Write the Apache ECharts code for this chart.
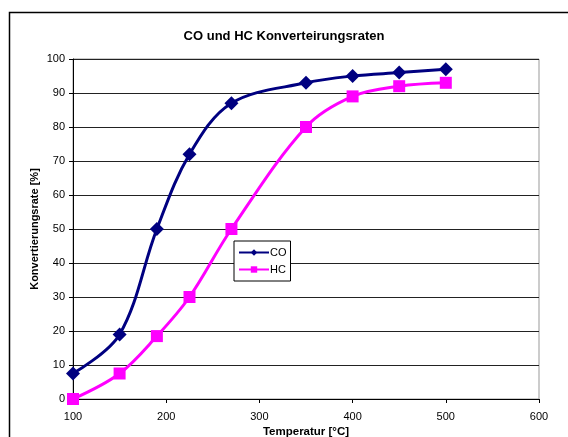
<!DOCTYPE html>
<html><head><meta charset="utf-8">
<script src="https://cdn.jsdelivr.net/npm/echarts@6/dist/echarts.min.js"></script>
<style>html,body{margin:0;padding:0;background:#fff}#c{width:568px;height:437px}</style>
</head><body><div id="c"></div>
<script>
const temps = [100, 150, 190, 225, 270, 350, 400, 450, 500];
const coValues = [7.5, 19, 50, 72, 87, 93, 95, 96, 97];
const hcValues = [0, 7.5, 18.5, 30, 50, 80, 89, 92, 93];
const seriesNames = ['CO', 'HC'];
const titleText = 'CO und HC Konverteirungsraten';
const xName = 'Temperatur [°C]';
const yName = 'Konvertierungsrate [%]';

const pair = (xs, ys) => xs.map((x, i) => [x, ys[i]]);
const font = 'Liberation Sans, Arial, sans-serif';
const chart = echarts.init(document.getElementById('c'), null, {renderer: 'canvas'});
chart.setOption({
  animation: false,
  backgroundColor: '#fff',
  graphic: [{type: 'rect', shape: {x: 9.5, y: 12.5, width: 570, height: 440}, style: {fill: 'none', stroke: '#000', lineWidth: 1.5}, silent: true, z: -1}],
  title: {text: titleText, left: 'center', top: 25, textStyle: {fontFamily: font, fontSize: 13, fontWeight: 'bold', color: '#000'}},
  grid: {left: 73, top: 59, right: 29, bottom: 38, show: true, borderColor: '#999', borderWidth: 1, backgroundColor: 'transparent', containLabel: false, outerBoundsMode: 'none'},
  legend: {
    orient: 'vertical', left: 234, top: 241, data: seriesNames,
    backgroundColor: '#fff', borderColor: '#000', borderWidth: 1, padding: [6, 4, 6, 4],
    itemGap: 6, itemWidth: 30, itemHeight: 8,
    textStyle: {fontFamily: font, fontSize: 11, color: '#000', padding: [0, 0, 0, -4]}
  },
  xAxis: {
    type: 'value', min: 100, max: 600, interval: 100,
    name: xName, nameLocation: 'middle', nameGap: 27, nameMoveOverlap: false,
    nameTextStyle: {fontFamily: font, fontSize: 11.5, fontWeight: 'bold', color: '#000'},
    axisLine: {lineStyle: {color: '#000', width: 1}},
    axisTick: {show: true, length: 4, lineStyle: {color: '#000'}},
    axisLabel: {fontFamily: font, fontSize: 11, color: '#000', margin: 12},
    splitLine: {show: false}
  },
  yAxis: {
    type: 'value', min: 0, max: 100, interval: 10,
    name: yName, nameLocation: 'middle', nameGap: 33, nameRotate: 90, nameMoveOverlap: false,
    nameTextStyle: {fontFamily: font, fontSize: 11, fontWeight: 'bold', color: '#000'},
    axisLine: {show: true, lineStyle: {color: '#000', width: 1}},
    axisTick: {show: true, length: 4, lineStyle: {color: '#000'}},
    axisLabel: {fontFamily: font, fontSize: 11, color: '#000', margin: 8},
    splitLine: {show: true, lineStyle: {color: '#222', width: 1}}
  },
  series: [
    {name: seriesNames[0], type: 'line', data: pair(temps, coValues), smooth: 0.35,
     symbol: 'diamond', symbolSize: 14, itemStyle: {color: '#000080'}, lineStyle: {color: '#000080', width: 3}, z: 3},
    {name: seriesNames[1], type: 'line', data: pair(temps, hcValues), smooth: 0.35,
     symbol: 'rect', symbolSize: 12, itemStyle: {color: '#FF00FF'}, lineStyle: {color: '#FF00FF', width: 3}, z: 2}
  ]
});
</script></body></html>
